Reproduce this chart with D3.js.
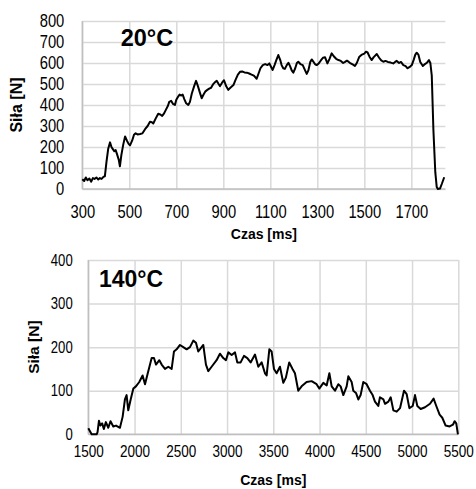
<!DOCTYPE html>
<meta charset="utf-8">
<script src="https://d3js.org/d3.v7.min.js"></script>
<style>
  body { margin: 0; background: #fff; }
  .tick text { font-family: "Liberation Sans", Arial, sans-serif; fill: #000; }
  .grid line { stroke: #d9d9d9; stroke-width: 1.5; }
  .title { font-family: "Liberation Sans", Arial, sans-serif; font-weight: bold; fill: #000; }
</style>
<div id="my_dataviz"></div>
<script>

// ---- data: 20°C ----
var time20 = [300,308,315,322,330,338,345,352,360,368,375,382,390,396,403,410,418,424,430,436,442,448,455,460,466,474,482,490,497,503,512,520,527,535,546,556,567,578,588,596,602,612,623,632,640,648,656,664,670,678,686,694,700,708,714,720,727,734,742,751,758,766,776,784,792,800,808,816,824,832,840,848,856,864,872,880,886,894,903,912,921,930,943,952,962,971,980,990,1000,1010,1020,1030,1042,1050,1058,1068,1078,1088,1096,1104,1110,1118,1126,1134,1142,1148,1155,1162,1170,1177,1184,1191,1198,1206,1213,1219,1228,1238,1246,1255,1262,1270,1276,1284,1290,1297,1306,1315,1324,1333,1343,1352,1361,1370,1380,1390,1400,1410,1418,1426,1434,1442,1452,1460,1468,1478,1490,1500,1507,1514,1522,1531,1540,1553,1563,1572,1581,1590,1600,1612,1623,1631,1638,1648,1656,1666,1676,1683,1692,1702,1710,1717,1723,1730,1738,1749,1758,1766,1775,1781,1787,1794,1802,1808,1813,1822,1830,1840];
var force20 = [46,38,55,42,50,35,52,48,55,45,52,48,58,60,130,190,222,200,190,180,185,165,140,108,160,210,250,230,215,208,230,258,265,260,262,265,285,300,320,318,312,335,358,355,348,360,378,395,415,420,405,400,425,440,450,445,450,428,408,400,415,455,490,515,490,460,432,450,465,472,478,482,498,508,515,500,490,505,518,490,472,482,495,520,545,558,560,555,554,550,545,540,525,550,575,590,595,590,598,580,567,590,615,638,615,590,575,572,590,601,585,565,554,575,600,606,595,590,570,548,565,605,617,605,595,590,598,612,625,627,598,620,646,632,620,614,610,600,605,611,605,598,592,586,600,628,640,645,654,650,630,614,628,643,625,612,606,610,605,602,598,605,610,600,605,590,585,575,580,590,615,640,649,640,605,586,595,601,614,600,540,280,80,10,0,2,25,56];
var xTicks20 = [300,500,700,900,1100,1300,1500,1700];
var yTicks20 = [0,100,200,300,400,500,600,700,800];

// ---- data: 140°C ----
var time140 = [1500,1536,1590,1600,1615,1630,1650,1668,1690,1716,1740,1770,1800,1842,1871,1896,1914,1932,1958,1987,2015,2051,2087,2113,2149,2185,2210,2232,2268,2293,2329,2365,2401,2426,2455,2491,2527,2563,2599,2635,2664,2689,2725,2743,2772,2797,2833,2887,2923,2959,2988,3014,3050,3086,3111,3147,3183,3219,3255,3302,3338,3374,3410,3428,3457,3482,3507,3536,3572,3608,3636,3672,3708,3734,3770,3806,3860,3914,3968,3997,4041,4077,4106,4131,4167,4203,4228,4257,4293,4311,4347,4365,4394,4419,4444,4473,4509,4545,4574,4599,4635,4653,4690,4708,4744,4769,4798,4834,4870,4913,4942,4971,5007,5032,5057,5093,5140,5194,5233,5262,5298,5327,5363,5406,5442,5460,5478,5496];
var force140 = [14,0,0,5,31,20,25,12,28,15,30,18,20,15,40,80,90,55,80,105,110,120,135,115,145,175,175,160,170,160,150,155,150,190,195,205,200,195,200,215,210,190,200,205,160,145,155,170,185,175,170,188,182,188,165,165,180,175,165,183,155,165,140,135,195,190,150,140,155,118,130,165,150,140,100,110,120,122,115,105,118,112,140,110,100,115,110,90,110,133,120,100,95,80,90,120,115,100,90,75,65,85,80,70,75,85,55,52,60,100,92,60,65,90,65,58,62,70,82,65,45,38,20,18,22,30,25,0];
var xTicks140 = [1500,2000,2500,3000,3500,4000,4500,5000,5500];
var yTicks140 = [0,100,200,300,400];

// tick labels in the reference are horizontally squeezed
var squeeze = 0.82;

var svg = d3.select("#my_dataviz")
  .append("svg")
    .attr("width", 476)
    .attr("height", 489);

function drawPanel(o) {
  var width = o.right - o.left,
      height = o.bottom - o.top;

  var g = svg.append("g")
    .attr("transform", "translate(" + o.left + "," + o.top + ")");

  var x = d3.scaleLinear().domain(o.xDomain).range([0, width]);
  var y = d3.scaleLinear().domain(o.yDomain).range([height, 0]);

  // horizontal grid + y labels
  var ya = g.append("g")
    .attr("class", "grid")
    .call(d3.axisLeft(y).tickValues(o.yTicks).tickSize(-width).tickFormat(d3.format("d")));
  ya.select(".domain").remove();
  ya.selectAll("text")
    .style("font-size", o.yFont + "px")
    .attr("x", -o.yPad / squeeze)
    .attr("transform", "scale(" + squeeze + ",1)");

  // vertical grid + x labels
  var xa = g.append("g")
    .attr("class", "grid")
    .attr("transform", "translate(0," + height + ")")
    .call(d3.axisBottom(x).tickValues(o.xTicks).tickSize(-height).tickPadding(o.xPad).tickFormat(d3.format("d")));
  xa.select(".domain").remove();
  xa.selectAll("text")
    .style("font-size", o.xFont + "px")
    .attr("transform", "scale(" + squeeze + ",1)");

  // left and bottom axis lines
  g.append("line").attr("x1", 0).attr("x2", 0).attr("y1", 0).attr("y2", height)
    .attr("stroke", "#bfbfbf").attr("stroke-width", 1.5);
  g.append("line").attr("x1", 0).attr("x2", width).attr("y1", height).attr("y2", height)
    .attr("stroke", "#bfbfbf").attr("stroke-width", 1.5);

  var pts = o.t.map(function(d, i) { return [d, o.f[i]]; });
  g.append("path")
    .datum(pts)
    .attr("fill", "none")
    .attr("stroke", "#000")
    .attr("stroke-width", 2)
    .attr("stroke-linejoin", "round")
    .attr("d", d3.line()
      .x(function(d) { return x(d[0]); })
      .y(function(d) { return y(d[1]); }));

  // panel label
  g.append("text")
    .attr("class", "title")
    .attr("x", o.labelX - o.left)
    .attr("y", o.labelY - o.top)
    .style("font-size", o.labelFont + "px")
    .text(o.label);

  // axis titles
  svg.append("text")
    .attr("class", "title")
    .attr("text-anchor", "middle")
    .attr("x", (o.left + o.right) / 2)
    .attr("y", o.xTitleY)
    .style("font-size", o.xTitleFont + "px")
    .text("Czas [ms]");

  svg.append("text")
    .attr("class", "title")
    .attr("text-anchor", "middle")
    .attr("transform", "translate(" + o.yTitleX + "," + ((o.top + o.bottom) / 2) + ") rotate(-90)")
    .style("font-size", o.yTitleFont + "px")
    .text("Siła [N]");
}

drawPanel({
  left: 82.3, right: 445.4, top: 21, bottom: 189,
  xDomain: [300, 1845], yDomain: [0, 800],
  xTicks: xTicks20, yTicks: yTicks20,
  t: time20, f: force20,
  yPad: 18, xPad: 16, yFont: 18, xFont: 18,
  label: "20°C", labelX: 120.7, labelY: 45.7, labelFont: 23.5,
  xTitleY: 238.8, xTitleFont: 14,
  yTitleX: 22, yTitleFont: 16
});

drawPanel({
  left: 88.3, right: 458.3, top: 260, bottom: 434.3,
  xDomain: [1500, 5500], yDomain: [0, 400],
  xTicks: xTicks140, yTicks: yTicks140,
  t: time140, f: force140,
  yPad: 15.6, xPad: 11, yFont: 16, xFont: 16.5,
  label: "140°C", labelX: 99, labelY: 287, labelFont: 23,
  xTitleY: 485, xTitleFont: 14,
  yTitleX: 39, yTitleFont: 15.5
});

</script>
